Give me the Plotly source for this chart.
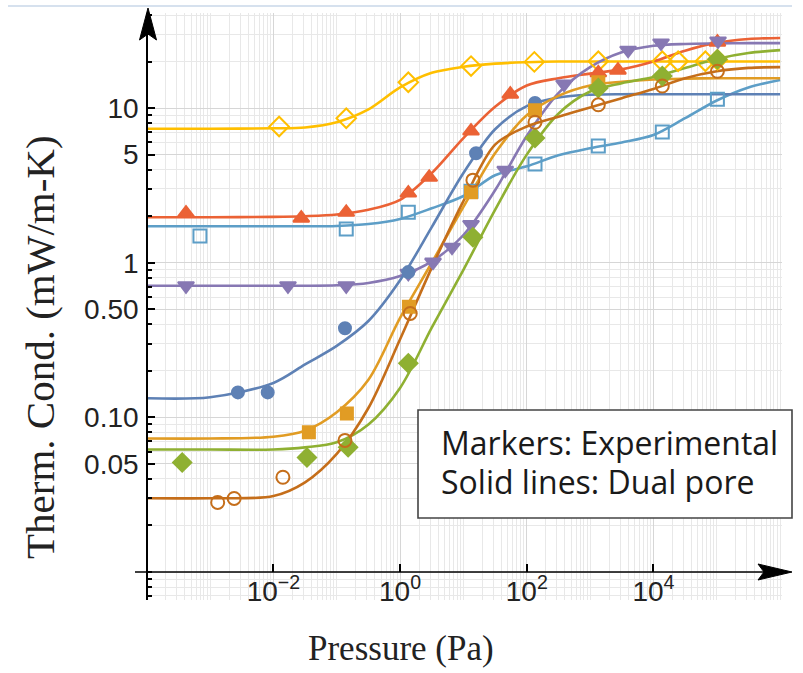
import numpy as np
import plotly.graph_objects as go

# ---------------- data ----------------
# log10(pressure / Pa) sample positions for the model curves
curve_logp = [-4, -3, -2, -1.5, -1, -0.5, 0, 0.5, 1, 1.5, 2, 2.5, 3, 3.5, 4, 4.5, 5, 5.5, 6]

curve_yellow = [7.35, 7.35, 7.4, 7.5, 8.1, 9.8, 13.6, 16.9, 18.5, 19.4, 19.8, 20.0, 20.0, 20.0, 20.0, 20.0, 20.0, 20.0, 20.0]
curve_red = [1.97, 1.97, 1.98, 2.0, 2.05, 2.2, 2.55, 3.8, 6.4, 10.2, 14.0, 15.6, 16.7, 17.8, 20.0, 23.5, 26.5, 28.0, 28.4]
curve_lightblue = [1.72, 1.72, 1.72, 1.72, 1.73, 1.78, 1.92, 2.25, 2.7, 3.68, 4.2, 4.95, 5.5, 6.0, 6.7, 8.6, 11.2, 13.6, 15.2]
curve_purple = [0.71, 0.71, 0.71, 0.71, 0.715, 0.74, 0.82, 1.02, 1.51, 2.94, 6.6, 12.5, 18.4, 23.0, 25.3, 26.0, 26.2, 26.3, 26.3]
curve_blue = [0.133, 0.135, 0.167, 0.22, 0.29, 0.42, 0.77, 1.7, 3.8, 7.3, 10.3, 11.7, 12.2, 12.3, 12.3, 12.3, 12.3, 12.3, 12.3]
curve_orange = [0.073, 0.073, 0.075, 0.082, 0.108, 0.175, 0.44, 1.0, 2.3, 5.1, 9.0, 12.0, 14.0, 14.8, 15.3, 15.5, 15.6, 15.6, 15.6]
curve_green = [0.062, 0.062, 0.062, 0.064, 0.069, 0.09, 0.155, 0.38, 0.9, 2.2, 5.0, 9.2, 12.8, 14.5, 15.9, 18.2, 20.8, 22.7, 23.7]
curve_brown = [0.030, 0.030, 0.031, 0.038, 0.058, 0.115, 0.32, 0.93, 2.5, 5.8, 7.6, 8.8, 10.1, 11.6, 13.3, 15.6, 17.3, 18.2, 18.4]

# experimental markers: log10(pressure / Pa) and conductivity (mW/m-K)
yellow_logp = [-1.91, -0.85, 0.13, 1.12, 2.12, 3.13, 4.14, 4.39, 4.82, 5.01]
yellow_k = [7.6, 8.6, 14.7, 18.7, 19.9, 20.1, 20.1, 20.1, 20.1, 20.5]
red_logp = [-3.38, -1.56, -0.85, 0.13, 0.46, 1.12, 1.74, 3.13, 3.44, 5.01]
red_k = [2.09, 1.94, 2.12, 2.82, 3.57, 7.1, 12.3, 16.9, 17.6, 26.7]
lightblue_logp = [-3.16, -0.85, 0.13, 1.12, 2.13, 3.13, 4.14, 5.01]
lightblue_k = [1.49, 1.65, 2.12, 2.90, 4.35, 5.68, 7.0, 11.4]
purple_logp = [-3.38, -1.77, -0.85, 0.13, 0.52, 0.82, 1.12, 1.66, 2.59, 3.60, 4.12, 5.02]
purple_k = [0.71, 0.71, 0.71, 0.855, 1.01, 1.26, 1.77, 3.97, 14.3, 23.7, 26.4, 27.2]
blue_logp = [-2.56, -2.09, -0.87, 0.13, 1.20, 2.13]
blue_k = [0.145, 0.145, 0.377, 0.87, 5.1, 10.8]
orange_logp = [-1.44, -0.84, 0.14, 1.12, 2.13, 3.13]
orange_k = [0.080, 0.106, 0.52, 2.86, 9.7, 14.7]
green_logp = [-3.44, -1.47, -0.82, 0.13, 1.15, 2.13, 3.13, 4.14, 5.01]
green_k = [0.051, 0.055, 0.064, 0.224, 1.46, 6.4, 13.5, 16.1, 20.7]
brown_logp = [-2.88, -2.62, -1.85, -0.87, 0.16, 1.15, 2.13, 3.13, 4.14, 5.01]
brown_k = [0.0282, 0.0299, 0.041, 0.071, 0.47, 3.42, 8.1, 10.5, 13.9, 17.3]

x_tickvals = [1e-2, 1e0, 1e2, 1e4]
x_ticktext = ["10<sup>\u22122</sup>", "10<sup>0</sup>", "10<sup>2</sup>", "10<sup>4</sup>"]
y_tickvals = [0.05, 0.1, 0.5, 1, 5, 10]
y_ticktext = ["0.05", "0.10", "0.50", "1", "5", "10"]

# ---------------- styling ----------------
COL = {
    "blue": "#5E81B5", "orange": "#E19C24", "green": "#8FB032", "red": "#EB6235",
    "purple": "#8778B3", "brown": "#C56E1A", "lightblue": "#5D9EC7", "yellow": "#FFBF00",
}

W, H = 803, 673
L, R, T, B = 148, 782, 13, 600


def px(x):
    return (x - L) / (R - L)


def py(y):
    return (B - y) / (B - T)


fig = go.Figure()

curve_x = [10 ** e for e in curve_logp]
curves = [
    ("yellow", curve_yellow), ("red", curve_red), ("lightblue", curve_lightblue),
    ("purple", curve_purple), ("blue", curve_blue), ("orange", curve_orange),
    ("green", curve_green), ("brown", curve_brown),
]
for name, vals in curves:
    fig.add_trace(go.Scatter(
        x=curve_x, y=vals, mode="lines",
        line=dict(color=COL[name], width=2.6, shape="spline", smoothing=0.9),
        showlegend=False, hoverinfo="skip",
    ))

markers = [
    ("yellow", yellow_logp, yellow_k, "diamond-open", 15),
    ("red", red_logp, red_k, "triangle-up", 14),
    ("lightblue", lightblue_logp, lightblue_k, "square-open", 13),
    ("purple", purple_logp, purple_k, "triangle-down", 14),
    ("blue", blue_logp, blue_k, "circle", 12),
    ("orange", orange_logp, orange_k, "square", 12),
    ("green", green_logp, green_k, "diamond", 14),
    ("brown", brown_logp, brown_k, "circle-open", 13),
]
for name, lp, k, sym, size in markers:
    fig.add_trace(go.Scatter(
        x=[10 ** e for e in lp], y=k, mode="markers",
        marker=dict(symbol=sym, size=size, color=COL[name],
                    line=dict(color=COL[name], width=2)),
        showlegend=False,
    ))

x_axis_y = 572
shapes = [
    # x axis line and arrow
    dict(type="line", xref="paper", yref="paper", x0=px(135), x1=px(765),
         y0=py(x_axis_y), y1=py(x_axis_y), line=dict(color="black", width=1.6)),
    dict(type="path", xref="paper", yref="paper",
         path=f"M {px(792)} {py(572)} L {px(758)} {py(564)} L {px(764)} {py(572)} L {px(758)} {py(580)} Z",
         fillcolor="black", line=dict(color="black", width=1)),
    # y axis arrow
    dict(type="path", xref="paper", yref="paper",
         path=f"M {px(148)} {py(8)} L {px(139.5)} {py(40)} L {px(148)} {py(34)} L {px(156.5)} {py(40)} Z",
         fillcolor="black", line=dict(color="black", width=1)),
    # annotation box
    dict(type="rect", xref="paper", yref="paper", x0=px(418), x1=px(792),
         y0=py(518), y1=py(410), fillcolor="white", line=dict(color="#444444", width=1.6),
         layer="above"),
    # thin top border
    dict(type="line", xref="paper", yref="paper", x0=px(8), x1=px(792),
         y0=py(6), y1=py(6), line=dict(color="#c9d7e8", width=1.5)),
]

annotations = [
    dict(text="Markers: Experimental", xref="paper", yref="paper", x=px(439), y=py(442),
         xanchor="left", yanchor="middle", showarrow=False,
         font=dict(family="Open Sans", size=32, color="#1a1a1a")),
    dict(text="Solid lines: Dual pore", xref="paper", yref="paper", x=px(439), y=py(481),
         xanchor="left", yanchor="middle", showarrow=False,
         font=dict(family="Open Sans", size=32, color="#1a1a1a")),
    dict(text="Pressure (Pa)", xref="paper", yref="paper", x=px(401), y=py(648),
         xanchor="center", yanchor="middle", showarrow=False,
         font=dict(family="Liberation Serif", size=35, color="#222222")),
    dict(text="Therm. Cond. (mW/m-K)", xref="paper", yref="paper", x=px(40), y=py(347),
         xanchor="center", yanchor="middle", textangle=-90, showarrow=False,
         font=dict(family="Liberation Serif", size=41, color="#222222")),
]

fig.update_layout(
    width=W, height=H,
    margin=dict(l=L, r=W - R, t=T, b=H - B, pad=0),
    paper_bgcolor="white", plot_bgcolor="white",
    shapes=shapes, annotations=annotations,
    showlegend=False,
)

fig.update_xaxes(
    type="log", range=[-3.98, 6.03],
    anchor="free", position=py(x_axis_y),
    tickmode="array", tickvals=x_tickvals, ticktext=x_ticktext,
    ticks="inside", ticklen=8, tickwidth=1.5, tickcolor="black",
    tickfont=dict(family="Liberation Sans", size=28, color="#222222"),
    showline=False, zeroline=False,
    showgrid=True, gridcolor="#d6d6d6", gridwidth=1,
    minor=dict(dtick="D1", showgrid=True, gridcolor="#e8e8e8", gridwidth=1, ticks=""),
)
fig.update_yaxes(
    type="log", range=[-2.181, 1.615],
    tickmode="array", tickvals=y_tickvals, ticktext=y_ticktext,
    ticks="inside", ticklen=7, tickwidth=1.5, tickcolor="black",
    ticklabelstandoff=2,
    tickfont=dict(family="Liberation Sans", size=28, color="#222222"),
    showline=True, linecolor="black", linewidth=1.6, mirror=False,
    zeroline=False,
    showgrid=True, gridcolor="#d6d6d6", gridwidth=1,
    minor=dict(dtick="D1", showgrid=True, gridcolor="#e8e8e8", gridwidth=1,
               ticks="inside", ticklen=4, tickcolor="black"),
)

fig.write_html(
    "out.html",
    config={"displayModeBar": False},
    post_script="document.body.style.margin='0';document.body.style.overflow='hidden';",
)
